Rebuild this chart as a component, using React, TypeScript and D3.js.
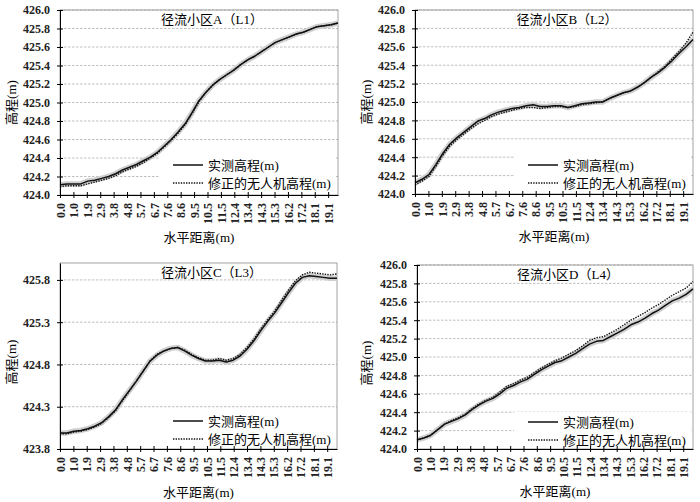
// @ts-nocheck
import React, { useEffect, useRef } from "react";
import * as d3 from "d3";

const xTickLabels = ["0.0", "1.0", "1.9", "2.9", "3.8", "4.8", "5.7", "6.7", "7.6", "8.6", "9.5",
  "10.5", "11.5", "12.4", "13.4", "14.3", "15.3", "16.2", "17.2", "18.1", "19.1"];
const xTickStep = 0.955; // metres between labelled categories
const xMax = 19.8;
const sampleStep = 0.495; // spacing of the points below

const yTicksMain = [424.0, 424.2, 424.4, 424.6, 424.8, 425.0, 425.2, 425.4, 425.6, 425.8, 426.0];
const yTicksC = [423.8, 424.3, 424.8, 425.3, 425.8];

const legendLabels = ["实测高程(m)", "修正的无人机高程(m)"];
const titles = ["径流小区A（L1）", "径流小区B（L2）", "径流小区C（L3）", "径流小区D（L4）"];

const measuredA = [424.11, 424.12, 424.12, 424.12, 424.15, 424.16, 424.18, 424.2, 424.23, 424.27, 424.3,
  424.33, 424.37, 424.41, 424.46, 424.53, 424.6, 424.68, 424.77, 424.89, 425.02, 425.11, 425.19, 425.25,
  425.3, 425.35, 425.41, 425.46, 425.5, 425.55, 425.6, 425.65, 425.68, 425.71, 425.74, 425.76, 425.79,
  425.82, 425.83, 425.84, 425.86];
const uavA = [424.09, 424.1, 424.1, 424.1, 424.12, 424.14, 424.16, 424.18, 424.21, 424.25, 424.28,
  424.31, 424.35, 424.4, 424.45, 424.52, 424.59, 424.67, 424.76, 424.88, 425.01, 425.11, 425.19, 425.25,
  425.3, 425.35, 425.41, 425.46, 425.5, 425.55, 425.6, 425.65, 425.68, 425.71, 425.74, 425.76, 425.79,
  425.82, 425.83, 425.84, 425.86];

const measuredB = [424.12, 424.16, 424.21, 424.32, 424.44, 424.54, 424.61, 424.67, 424.73, 424.79, 424.82,
  424.86, 424.89, 424.91, 424.93, 424.94, 424.96, 424.97, 424.95, 424.95, 424.96, 424.96, 424.94, 424.96,
  424.98, 424.99, 425.0, 425.0, 425.04, 425.07, 425.1, 425.12, 425.16, 425.21, 425.27, 425.32, 425.38,
  425.45, 425.53, 425.6, 425.68];
const uavB = [424.1, 424.14, 424.19, 424.3, 424.42, 424.52, 424.59, 424.65, 424.71, 424.76, 424.8,
  424.84, 424.87, 424.89, 424.91, 424.93, 424.94, 424.94, 424.93, 424.94, 424.95, 424.95, 424.94, 424.95,
  424.97, 424.98, 424.99, 425.0, 425.04, 425.07, 425.1, 425.12, 425.16, 425.21, 425.27, 425.33, 425.39,
  425.47, 425.55, 425.64, 425.76];

const measuredC = [423.99, 423.99, 424.01, 424.02, 424.04, 424.07, 424.11, 424.18, 424.26, 424.38, 424.49,
  424.6, 424.72, 424.84, 424.91, 424.96, 424.99, 425.0, 424.96, 424.91, 424.87, 424.84, 424.84, 424.85,
  424.83, 424.85, 424.9, 424.98, 425.08, 425.2, 425.31, 425.41, 425.53, 425.65, 425.76, 425.83, 425.85,
  425.84, 425.83, 425.82, 425.82];
const uavC = [423.98, 423.98, 424.0, 424.01, 424.03, 424.06, 424.1, 424.17, 424.25, 424.37, 424.48,
  424.6, 424.72, 424.84, 424.92, 424.96, 424.99, 425.0, 424.97, 424.92, 424.88, 424.85, 424.85, 424.87,
  424.85, 424.87, 424.92, 425.0, 425.1, 425.22, 425.33, 425.43, 425.56, 425.68, 425.79, 425.86, 425.89,
  425.88, 425.87, 425.86, 425.87];

const measuredD = [424.1, 424.12, 424.15, 424.21, 424.27, 424.3, 424.33, 424.37, 424.43, 424.48, 424.52,
  424.55, 424.6, 424.66, 424.69, 424.73, 424.76, 424.81, 424.86, 424.9, 424.94, 424.96, 425.0, 425.04,
  425.09, 425.14, 425.17, 425.18, 425.22, 425.26, 425.3, 425.35, 425.38, 425.42, 425.47, 425.51, 425.56,
  425.61, 425.64, 425.68, 425.74];
const uavD = [424.1, 424.12, 424.15, 424.21, 424.27, 424.31, 424.34, 424.38, 424.44, 424.49, 424.53,
  424.56, 424.62, 424.68, 424.71, 424.75, 424.78, 424.83, 424.88, 424.92, 424.96, 424.99, 425.03, 425.07,
  425.12, 425.18, 425.21, 425.22, 425.26, 425.3, 425.35, 425.4, 425.44, 425.48, 425.53, 425.57, 425.62,
  425.67, 425.71, 425.75, 425.82];

const FONT = "'Liberation Serif', 'Times New Roman', 'Noto Sans CJK SC', serif";

const panels = [
  { left: 60, top: 10, right: 338, bottom: 195, yDomain: [424, 426], yTicks: yTicksMain,
    measured: measuredA, uav: uavA, title: titles[0], legendX: 173, legendY: 165, ylabelX: 11, xlabelY: 242 },
  { left: 415, top: 10, right: 693, bottom: 194, yDomain: [424, 426], yTicks: yTicksMain,
    measured: measuredB, uav: uavB, title: titles[1], legendX: 528, legendY: 165, ylabelX: 366, xlabelY: 241 },
  { left: 60, top: 263, right: 337, bottom: 449, yDomain: [423.8, 426], yTicks: yTicksC,
    measured: measuredC, uav: uavC, title: titles[2], legendX: 173, legendY: 421, ylabelX: 11, xlabelY: 497 },
  { left: 417, top: 265, right: 693, bottom: 449, yDomain: [424, 426], yTicks: yTicksMain,
    measured: measuredD, uav: uavD, title: titles[3], legendX: 528, legendY: 422, ylabelX: 366, xlabelY: 496 },
];

const App = () => {
  const svgRef = useRef();

  useEffect(() => {
    const svg = d3.select(svgRef.current);
    svg.selectAll("*").remove();
    svg.append("rect").attr("width", 700).attr("height", 502).attr("fill", "#fff");

    panels.forEach((p, pi) => {
      const g = svg.append("g");
      const x = d3.scaleLinear().domain([0, xMax]).range([p.left, p.right]);
      const y = d3.scaleLinear().domain(p.yDomain).range([p.bottom, p.top]);

      // gridlines
      g.selectAll(".grid")
        .data(p.yTicks.filter(t => t > p.yDomain[0]))
        .join("line")
        .attr("x1", p.left)
        .attr("x2", p.right)
        .attr("y1", d => y(d))
        .attr("y2", d => y(d))
        .attr("stroke", "#b0b0b0")
        .attr("stroke-width", 0.8)
        .attr("stroke-dasharray", "2.5,1.5");

      // frame
      g.append("rect")
        .attr("x", p.left)
        .attr("y", p.top)
        .attr("width", p.right - p.left)
        .attr("height", p.bottom - p.top)
        .attr("fill", "none")
        .attr("stroke", "#8c8c8c")
        .attr("stroke-width", 0.8);

      // legend background hides gridlines under it
      g.append("rect")
        .attr("x", p.legendX - 14)
        .attr("y", p.legendY - 10)
        .attr("width", p.right - 2 - (p.legendX - 14))
        .attr("height", p.bottom - 2 - (p.legendY - 10))
        .attr("fill", "#fff");

      const pts = i => x(i * sampleStep);
      const line = d3.line().x((d, i) => pts(i)).y(d => y(d));

      g.append("path")
        .datum(p.measured)
        .attr("fill", "none")
        .attr("stroke", "#cfcfcf")
        .attr("stroke-width", 5.5)
        .attr("stroke-linejoin", "round")
        .attr("d", line);
      g.append("path")
        .datum(p.measured)
        .attr("fill", "none")
        .attr("stroke", "#111")
        .attr("stroke-width", 1.5)
        .attr("stroke-linejoin", "round")
        .attr("d", line);
      g.append("path")
        .datum(p.uav)
        .attr("fill", "none")
        .attr("stroke", "#111")
        .attr("stroke-width", 1.4)
        .attr("stroke-dasharray", "1.4,1.2")
        .attr("d", line);

      // y axis
      g.append("g")
        .attr("transform", `translate(${p.left},0)`)
        .call(d3.axisLeft(y).tickValues(p.yTicks).tickFormat(d3.format(".1f")).tickSize(3).tickSizeOuter(0))
        .call(a => a.select(".domain").attr("stroke", "#000"))
        .call(a => a.selectAll(".tick line").attr("x1", 3))
        .call(a => a.selectAll(".tick text")
          .attr("font-family", FONT).attr("font-size", 12).attr("font-weight", "bold")
          .attr("fill", "#222").attr("x", -10));

      // x axis
      const xTickVals = xTickLabels.map((l, i) => i * xTickStep);
      g.append("g")
        .attr("transform", `translate(0,${p.bottom})`)
        .call(d3.axisBottom(x).tickValues(xTickVals).tickFormat((d, i) => xTickLabels[i]).tickSize(3).tickSizeOuter(0))
        .call(a => a.select(".domain").attr("stroke", "#000"))
        .call(a => a.selectAll(".tick line").attr("y1", -3))
        .call(a => a.selectAll(".tick text")
          .attr("font-family", FONT)
          .attr("font-size", 12)
          .attr("font-weight", "bold")
          .attr("fill", "#222")
          .attr("transform", "rotate(-90)")
          .attr("text-anchor", "end")
          .attr("x", -8)
          .attr("y", 0)
          .attr("dy", "0.35em"));

      // title
      g.append("text")
        .attr("x", (p.left + p.right) / 2 + 13)
        .attr("y", p.top + 14)
        .attr("text-anchor", "middle")
        .attr("font-family", FONT)
        .attr("font-size", 13)
        .text(p.title);

      // axis labels
      g.append("text")
        .attr("transform", `translate(${p.ylabelX},${(p.top + p.bottom) / 2 + (pi >= 2 ? 6 : 0)}) rotate(-90)`)
        .attr("text-anchor", "middle")
        .attr("dy", "0.35em")
        .attr("font-family", FONT)
        .attr("font-size", 13)
        .text("高程(m)");
      g.append("text")
        .attr("x", (p.left + p.right) / 2)
        .attr("y", p.xlabelY)
        .attr("text-anchor", "middle")
        .attr("font-family", FONT)
        .attr("font-size", 13)
        .text("水平距离(m)");

      // legend
      legendLabels.forEach((lab, li) => {
        const ly = p.legendY + li * 18;
        g.append("line")
          .attr("x1", p.legendX)
          .attr("x2", p.legendX + 30)
          .attr("y1", ly)
          .attr("y2", ly)
          .attr("stroke", "#111")
          .attr("stroke-width", li === 0 ? 1.5 : 1.4)
          .attr("stroke-dasharray", li === 0 ? null : "1.4,1.2");
        g.append("text")
          .attr("x", p.legendX + 35)
          .attr("y", ly)
          .attr("dy", "0.35em")
          .attr("font-family", FONT)
          .attr("font-size", 13)
          .text(lab);
      });
    });
  }, []);

  return (
    <svg ref={svgRef} width={700} height={502} style={{ position: "absolute", left: 0, top: 0 }}></svg>
  );
};

export default App;
